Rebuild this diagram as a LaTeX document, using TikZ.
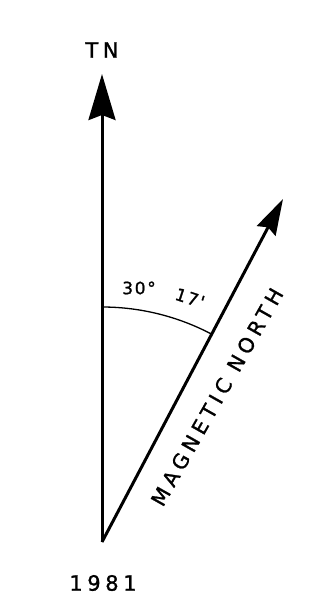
\documentclass[tikz,border=0pt]{standalone}
\usepackage{fontspec}
\setmainfont{DejaVu Sans}
\newfontfamily\spacedfont[LetterSpace=22,FakeBold=1.2]{DejaVu Sans}
\newfontfamily\magfont[LetterSpace=24,FakeBold=1.2]{DejaVu Sans}
\newfontfamily\anglefont[LetterSpace=10,FakeBold=1.2]{DejaVu Sans}
\usetikzlibrary{arrows.meta}
\begin{document}
\begin{tikzpicture}[x=1pt,y=-1pt,
  mainline/.style={line width=3pt},
  lbl/.style={font=\spacedfont\fontsize{21}{23}\selectfont,inner sep=0pt},
  smalllbl/.style={font=\anglefont\fontsize{17}{19}\selectfont,inner sep=0pt},
  maglbl/.style={font=\magfont\fontsize{20.5}{22}\selectfont,inner sep=0pt}]
\useasboundingbox (0,0) rectangle (331,614);
\coordinate (o) at (102,542);
\coordinate (tn) at (102,74);
\coordinate (mn) at (283,199);
\draw[mainline,-{Stealth[length=46pt,width=27pt,inset=5pt]}] (o) -- (tn);
\draw[mainline,-{Stealth[length=36pt,width=21pt,inset=4pt]}] (o) -- (mn);
\draw[line width=1.3pt] (102,307) arc[start angle=-90,end angle=-62.1,radius=235];
\node[lbl] (tnl) at (102,50) {TN};
\node[lbl] (yr) at (103,583) {1981};
\node[smalllbl] (ang1) at (139,288) {30°};
\node[smalllbl,rotate=-18] (ang2) at (190,298) {17'};
\node[maglbl,rotate=60.5] (mag) at (217,397) {MAGNETIC NORTH};
\end{tikzpicture}
\end{document}
